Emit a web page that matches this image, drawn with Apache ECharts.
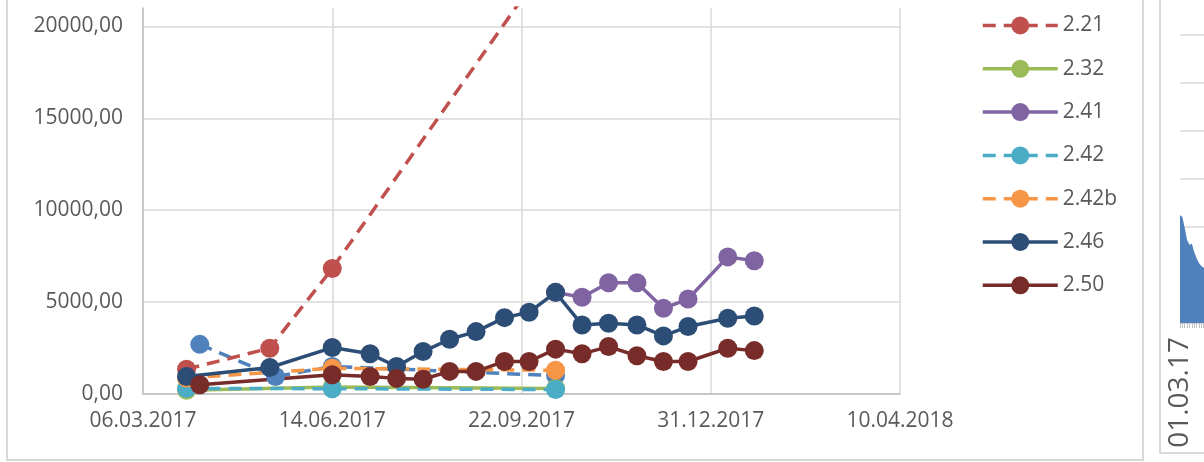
<!DOCTYPE html>
<html>
<head>
<meta charset="utf-8">
<script src="https://cdn.jsdelivr.net/npm/echarts@6/dist/echarts.min.js"></script>
<style>
  html, body { margin: 0; padding: 0; background: #fff; overflow: hidden; }
  body { width: 1204px; height: 462px; position: relative; }
  #main { position: absolute; left: 0; top: 0; width: 1150px; height: 462px; }
  #side { position: absolute; left: 1161px; top: 0; width: 64px; height: 452px; }
  .frame { position: absolute; border: 2px solid #d9d9d9; box-sizing: border-box; pointer-events: none; }
</style>
</head>
<body>
<div id="main"></div>
<div id="side"></div>
<div class="frame" style="left:6px; top:-20px; width:1138px; height:481px;"></div>
<div class="frame" style="left:1159px; top:-20px; width:100px; height:474px;"></div>
<script>
// series data, dates as dd.mm.yyyy
const datesBlue = ["05.04.2017", "15.05.2017", "14.06.2017", "10.10.2017"];
const valuesBlue = [2700, 950, 1500, 1000];

const dates221 = ["29.03.2017", "12.05.2017", "14.06.2017", "10.10.2017"];
const values221 = [1350, 2490, 6830, 24100];

const dates232 = ["29.03.2017", "14.06.2017", "10.10.2017"];
const values232 = [200, 380, 300];

const dates241 = ["10.10.2017", "24.10.2017", "07.11.2017", "22.11.2017", "06.12.2017",
  "19.12.2017", "09.01.2018", "23.01.2018"];
const values241 = [5530, 5260, 6050, 6050, 4660, 5165, 7460, 7245];

const dates242 = ["29.03.2017", "14.06.2017", "10.10.2017"];
const values242 = [300, 290, 240];

const dates242b = ["29.03.2017", "14.06.2017", "10.10.2017"];
const values242b = [870, 1400, 1290];

const dates246 = ["29.03.2017", "12.05.2017", "14.06.2017", "04.07.2017", "18.07.2017",
  "01.08.2017", "15.08.2017", "29.08.2017", "13.09.2017", "26.09.2017", "10.10.2017",
  "24.10.2017", "07.11.2017", "22.11.2017", "06.12.2017", "19.12.2017", "09.01.2018", "23.01.2018"];
const values246 = [955, 1442, 2527, 2185, 1497, 2310, 2980, 3395, 4155, 4445, 5530,
  3757, 3850, 3757, 3161, 3668, 4120, 4245];

const dates250 = ["05.04.2017", "14.06.2017", "04.07.2017", "18.07.2017", "01.08.2017",
  "15.08.2017", "29.08.2017", "13.09.2017", "26.09.2017", "10.10.2017", "24.10.2017",
  "07.11.2017", "22.11.2017", "06.12.2017", "19.12.2017", "09.01.2018", "23.01.2018"];
const values250 = [504, 1050, 955, 850, 800, 1230, 1230, 1770, 1770, 2440, 2185,
  2580, 2080, 1770, 1770, 2490, 2360];

const legendNames = ["2.21", "2.32", "2.41", "2.42", "2.42b", "2.46", "2.50"];

// second (cut off) chart on the right
const sideCategories = ["01.03.17", "02.03.17", "03.03.17", "04.03.17", "05.03.17",
  "06.03.17", "07.03.17", "08.03.17", "09.03.17", "10.03.17", "11.03.17", "12.03.17",
  "13.03.17", "14.03.17", "15.03.17", "16.03.17", "17.03.17", "18.03.17", "19.03.17", "20.03.17"];
const sideValues = [22.5, 22.1, 19.8, 17.3, 16.3, 16.5, 14.8, 13.5, 12.5, 11.9,
  11.5, 11.0, 10.8, 10.5, 10.2, 10.0, 9.8, 9.5, 9.3, 9.0];

const FONT = "Open Sans";
const TEXT = "#595959";
const DAY = 86400000;
const EPOCH = Date.UTC(1899, 11, 30);

// excel style serial day number
function serial(s) {
  const p = s.split(".").map(Number);
  return Math.round((Date.UTC(p[2], p[1] - 1, p[0]) - EPOCH) / DAY);
}
function fmtDate(v) {
  const d = new Date(EPOCH + v * DAY);
  const pad = (n) => String(n).padStart(2, "0");
  return pad(d.getUTCDate()) + "." + pad(d.getUTCMonth() + 1) + "." + d.getUTCFullYear();
}

function mk(name, color, dashed, dates, values) {
  return {
    name: name,
    type: "line",
    data: dates.map((d, i) => [serial(d), values[i]]),
    symbol: "circle",
    symbolSize: 19,
    lineStyle: { color: color, width: 3.5, type: dashed ? [13, 8] : "solid" },
    itemStyle: { color: color },
    emphasis: { disabled: true },
  };
}

const chart = echarts.init(document.getElementById("main"));
chart.setOption({
  animation: false,
  grid: { left: 143, right: 250, top: 8, bottom: 68 },
  legend: {
    data: legendNames,
    orient: "vertical",
    left: 976,
    top: 10,
    itemWidth: 75,
    itemHeight: 22.5,
    itemGap: 22.3,
    lineStyle: { width: 3.5 },
    textStyle: { fontFamily: FONT, fontSize: 21, color: TEXT },
  },
  xAxis: {
    type: "value",
    min: 42800,
    max: 43200,
    interval: 100,
    axisLine: { show: true, lineStyle: { color: "#bfbfbf", width: 1.5 } },
    axisTick: { show: false },
    splitLine: { show: true, lineStyle: { color: "#d9d9d9", width: 1.5 } },
    axisLabel: {
      formatter: fmtDate,
      fontFamily: FONT,
      fontSize: 21,
      lineHeight: 21,
      color: TEXT,
      margin: 17,
    },
  },
  yAxis: {
    type: "value",
    min: 0,
    max: 21000,
    interval: 5000,
    axisLine: { show: true, lineStyle: { color: "#bfbfbf", width: 1.5 } },
    axisTick: { show: false },
    splitLine: { show: true, showMaxLine: false, lineStyle: { color: "#d9d9d9", width: 1.5 } },
    axisLabel: {
      formatter: (v) => v.toFixed(2).replace(".", ","),
      showMaxLabel: false,
      fontFamily: FONT,
      fontSize: 21,
      color: TEXT,
      margin: 20,
    },
  },
  series: [
    mk("1", "#4f81bd", true, datesBlue, valuesBlue),
    mk("2.21", "#c0504d", true, dates221, values221),
    mk("2.32", "#9bbb59", false, dates232, values232),
    mk("2.41", "#8064a2", false, dates241, values241),
    mk("2.42", "#4bacc6", true, dates242, values242),
    mk("2.42b", "#f79646", true, dates242b, values242b),
    mk("2.46", "#2c4d75", false, dates246, values246),
    mk("2.50", "#772c2a", false, dates250, values250),
  ],
});

const side = echarts.init(document.getElementById("side"));
side.setOption({
  animation: false,
  grid: { left: 19, right: 0, top: 35, bottom: 129 },
  xAxis: {
    type: "category",
    data: sideCategories,
    boundaryGap: false,
    axisLine: { lineStyle: { color: "#d9d9d9", width: 1 } },
    axisTick: { show: true, interval: 0, length: 5, lineStyle: { color: "#bfbfbf" } },
    axisLabel: {
      interval: 100,
      rotate: 90,
      fontFamily: FONT,
      fontSize: 28,
      color: TEXT,
      margin: 14,
      padding: [0, 0, 8, 0],
    },
  },
  yAxis: {
    type: "value",
    min: 0,
    max: 60,
    interval: 10,
    axisLine: { show: false },
    axisTick: { show: false },
    axisLabel: { show: false },
    splitLine: { lineStyle: { color: "#d9d9d9", width: 1.5 } },
  },
  series: [{
    type: "line",
    data: sideValues,
    symbol: "none",
    lineStyle: { width: 0 },
    areaStyle: { color: "#4f81bd", opacity: 1 },
  }],
});
</script>
</body>
</html>
